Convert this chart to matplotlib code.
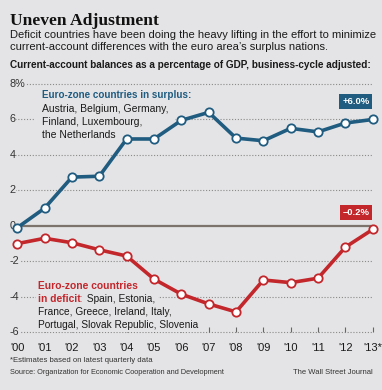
import matplotlib
matplotlib.use("Agg")
import matplotlib.pyplot as plt

# --- data ---
years = ["'00", "'01", "'02", "'03", "'04", "'05", "'06", "'07",
         "'08", "'09", "'10", "'11", "'12", "'13*"]
surplus = [-0.1, 1.0, 2.75, 2.8, 4.9, 4.9, 5.95, 6.4,
           4.95, 4.8, 5.5, 5.3, 5.8, 6.0]
deficit = [-1.0, -0.7, -0.95, -1.35, -1.7, -3.0, -3.85, -4.4,
           -4.85, -3.05, -3.2, -2.95, -1.2, -0.2]
grid_vals = [8, 6, 4, 2, -2, -4, -6]
ytick_labels = ["8%", "6", "4", "2", "0", "-2", "-4", "-6"]
ytick_vals = [8, 6, 4, 2, 0, -2, -4, -6]

BG = "#e4e4e6"
BLUE = "#1f5c80"
RED = "#c3262b"
INK = "#1a1a1a"

plt.rcParams["font.family"] = ["Liberation Sans", "DejaVu Sans"]

W, H = 382, 390
fig = plt.figure(figsize=(W / 100, H / 100), dpi=100, facecolor=BG)
renderer = fig.canvas.get_renderer()


def px(x, y):
    return x / W, 1 - y / H


def fit(t, target):
    # scale font so the text spans target pixels (the reference uses a condensed face)
    w = t.get_window_extent(renderer).width
    t.set_fontsize(t.get_fontsize() * target / w)
    return t


# axes: x data 0 -> 17.3px, 13 -> 372.7px ; y 8 -> 84px, -6 -> 332.3px
x0, x1 = 17.3, 372.7
y8, ym6 = 84.0, 332.3
sx = (x1 - x0) / 13
sy = (ym6 - y8) / 14
left_px, right_px, top_px = 6, 378, 78
ax = fig.add_axes([left_px / W, 1 - ym6 / H, (right_px - left_px) / W, (ym6 - top_px) / H])
ax.set_facecolor(BG)
ax.set_xlim((left_px - x0) / sx, 13 + (right_px - x1) / sx)
ax.set_ylim(-6, 8 + (y8 - top_px) / sy)
for s in ax.spines.values():
    s.set_visible(False)
ax.set_yticks([])

xs = list(range(len(years)))
ax.set_xticks(xs, years)
ax.tick_params(axis="x", direction="in", length=3.5, width=0.8, color="#666666",
               pad=7.5, labelsize=8, labelcolor=INK)

# gridlines
ax.hlines(grid_vals, -0.2, 13, colors="#8a8a8a", linestyles=(0, (1, 1.6)), lw=0.8,
          zorder=1, clip_on=False)
ax.hlines(0, -0.15, 13, colors="#7d736d", lw=1.6, zorder=2)

label_x = (9.5 - x0) / sx
for v, t in zip(ytick_vals, ytick_labels):
    ax.text(label_x, v, t, ha="left", va="center", fontsize=7.8, color="#333333",
            zorder=3, bbox=dict(facecolor=BG, edgecolor="none", pad=0.6))

# series
for vals, c in ((surplus, BLUE), (deficit, RED)):
    ax.plot(xs, vals, color=c, lw=2.6, zorder=4, solid_joinstyle="round",
            marker="o", ms=6, mfc="white", mec=c, mew=1.3, clip_on=False)

# end labels
ax.text(12.88, surplus[-1] + 1.02, f"+{surplus[-1]:.1f}%", ha="right", va="center",
        fontsize=6.8, fontweight="bold", color="white", zorder=5,
        bbox=dict(facecolor=BLUE, edgecolor="none", pad=2.0))
ax.text(12.88, deficit[-1] + 0.95, f"\u2013{abs(deficit[-1]):.1f}%", ha="right", va="center",
        fontsize=6.8, fontweight="bold", color="white", zorder=5,
        bbox=dict(facecolor=RED, edgecolor="none", pad=2.0))

# annotation blocks
body = ax.text(0.9, 5.86, "Austria, Belgium, Germany,\nFinland, Luxembourg,\nthe Netherlands",
               ha="left", va="center", fontsize=7.6, color=INK, linespacing=1.38, zorder=2.5,
               bbox=dict(facecolor=BG, edgecolor="none", pad=5))
fit(body, 126)
fit(ax.text(0.9, 7.36, "Euro-zone countries in surplus:", ha="left", va="center",
            fontsize=7.8, fontweight="bold", color=BLUE, zorder=3), 150)

hdr = fit(ax.text(0.76, -3.38, "Euro-zone countries", ha="left", va="center",
                  fontsize=7.8, fontweight="bold", color=RED, zorder=3,
                  bbox=dict(facecolor=BG, edgecolor="none", pad=1.5)), 100)
ind = ax.text(0.76, -4.1, "in deficit:", ha="left", va="center",
              fontsize=hdr.get_fontsize(), fontweight="bold", color=RED, zorder=3,
              bbox=dict(facecolor=BG, edgecolor="none", pad=1.5))
rest = ax.text(0.76, -5.2, "France, Greece, Ireland, Italy,\nPortugal, Slovak Republic, Slovenia",
               ha="left", va="center", fontsize=7.6, color=INK, linespacing=1.38, zorder=3,
               bbox=dict(facecolor=BG, edgecolor="none", pad=1.5))
fit(rest, 160)
ax.annotate(" Spain, Estonia,", xy=(1, 0.5), xycoords=ind, ha="left", va="center",
            fontsize=rest.get_fontsize(), color=INK, zorder=3,
            bbox=dict(facecolor=BG, edgecolor="none", pad=1.5))

# header texts
fig.text(*px(10, 21), "Uneven Adjustment", ha="left", va="center",
         fontsize=12.6, fontweight="bold", family="Liberation Serif", color="#111111")
sub1 = fit(fig.text(*px(10, 34.5), "Deficit countries have been doing the heavy lifting in the effort to minimize",
                    ha="left", va="center", fontsize=7.4, color=INK), 362)
fig.text(*px(10, 47), "current-account differences with the euro area\u2019s surplus nations.",
         ha="left", va="center", fontsize=sub1.get_fontsize(), color=INK)
fit(fig.text(*px(10, 65), "Current-account balances as a percentage of GDP, business-cycle adjusted:",
             ha="left", va="center", fontsize=7.5, fontweight="bold", color=INK), 362)

# footer
fit(fig.text(*px(10, 360), "*Estimates based on latest quarterly data", ha="left", va="center",
             fontsize=6.2, color="#333333"), 142)
fit(fig.text(*px(10, 373), "Source: Organization for Economic Cooperation and Development",
             ha="left", va="center", fontsize=6.2, color="#333333"), 218)
fit(fig.text(*px(373, 373), "The Wall Street Journal", ha="right", va="center",
             fontsize=6.2, color="#333333"), 80)

fig.savefig("out.png", dpi=100, facecolor=BG)
